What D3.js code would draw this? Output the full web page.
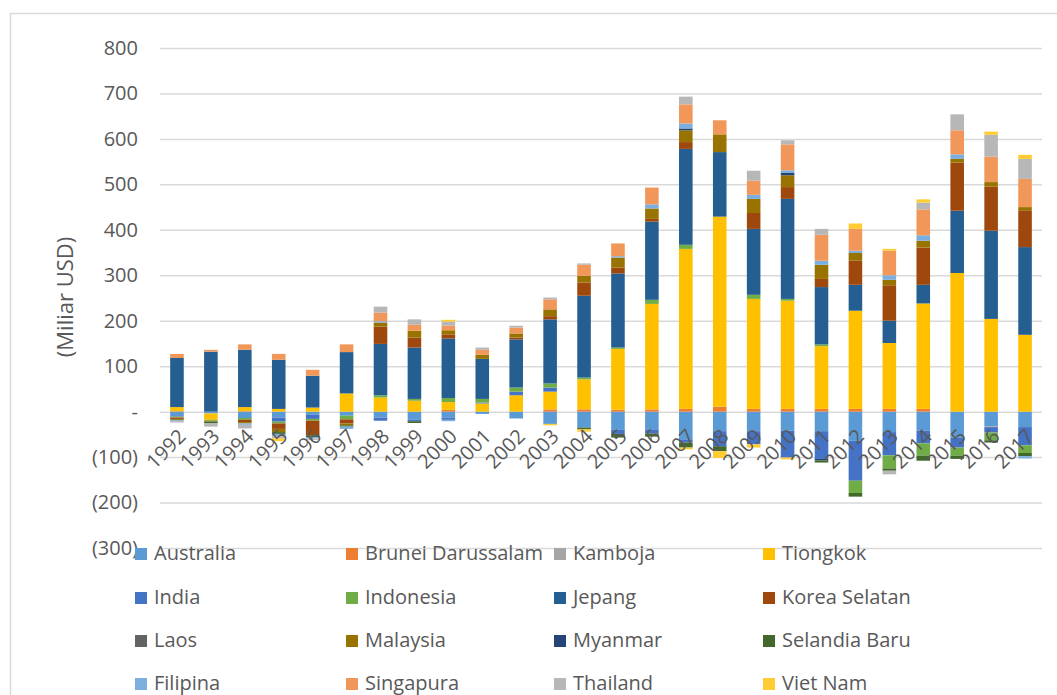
<!DOCTYPE html>
<html>
<head>
<meta charset="utf-8">
<script src="https://cdn.jsdelivr.net/npm/d3@7"></script>
<style>
  body { margin: 0; background: #fff; }
  text { font-family: "Open Sans", sans-serif; fill: #595959; }
</style>
</head>
<body>
<svg width="1057" height="695"></svg>
<script>
var years = ["1992","1993","1994","1995","1996","1997","1998","1999","2000","2001","2002","2003","2004",
	"2005","2006","2007","2008","2009","2010","2011","2012","2013","2014","2015","2016","2017"];

var names = ["Australia","Brunei Darussalam","Kamboja","Tiongkok","India","Indonesia","Jepang","Korea Selatan",
	"Laos","Malaysia","Myanmar","Selandia Baru","Filipina","Singapura","Thailand","Viet Nam"];

var palette = ["#5b9bd5","#ed7d31","#a5a5a5","#ffc000","#4472c4","#70ad47","#255e91","#9e480e",
	"#636363","#997300","#264478","#43682b","#7cafdd","#f1975a","#b7b7b7","#ffcd33"];

// values per partner, 1992..2017 (miliar USD)
var australia = [-8,-4,-14,-13,-7,-9,-13,-18,-13,-5,-15,-27,-35,-40,-39,-61,-43,-43,-42,-43,-64,-45,-42,-57,-32,-34];
var brunei    = [1,0,1,0,0,0,0,0,4,0,0,5,5,4,5,6,11,6,6,6,6,6,6,0,0,0];
var kamboja   = [0,0,0,0,0,0,0,0,0,0,0,0,0,0,0,0,0,0,0,0,0,0,0,0,-2,0];
var tiongkok  = [9,-14,9,6,9,40,31,24,17,18,36,39,66,134,232,352,418,242,238,138,216,145,232,305,204,169];
var india     = [-3,0,0,-9,-9,0,-7,-3,-5,2,8,9,0,-9,-9,-7,-33,-29,-59,-61,-88,-51,-28,-22,-12,-40];
var indonesia = [-2,-2,-4,-4,-4,-8,5,4,9,8,9,9,4,3,9,9,0,9,4,4,-27,-29,-27,-18,-17,-17];
var jepang    = [108,132,126,108,70,91,113,113,131,88,106,141,180,163,172,211,142,145,220,126,57,49,41,137,194,193];
var korea     = [-3,0,-5,-12,-32,-9,38,22,9,0,4,7,29,13,6,15,0,35,26,18,53,78,82,106,97,81];
var laos      = [0,0,0,0,0,0,0,0,0,0,0,0,0,0,0,0,0,0,0,0,0,0,0,0,0,0];
var malaysia  = [-2,-2,-3,-7,0,-4,9,15,9,9,9,15,15,22,23,26,39,31,26,31,17,12,15,8,10,7];
var myanmar   = [0,0,0,0,0,0,0,0,0,0,0,0,0,0,0,4,0,0,5,-3,0,0,0,0,0,0];
var selandia  = [-1,-3,0,-4,-4,-3,0,-4,0,0,0,0,-4,-8,-7,-11,-11,0,0,-5,-8,-5,-11,-7,-5,-7];
var filipina  = [-2,0,-3,-5,-3,-5,3,0,-3,0,0,0,0,3,9,11,0,9,6,9,5,10,12,10,0,-5];
var singapura = [9,4,12,13,13,17,19,13,10,11,13,22,24,28,37,42,31,31,57,57,48,54,57,53,56,62];
var thailand  = [-3,-8,-8,-5,-3,0,13,12,9,5,4,4,3,0,0,17,0,22,9,13,0,-8,15,35,48,44];
var vietnam   = [0,0,0,-6,0,0,0,0,4,0,0,-3,-5,0,0,-4,-15,-7,-4,0,12,4,7,0,7,9];

var yTicks = [-300,-200,-100,0,100,200,300,400,500,600,700,800];

var seriesValues = [australia,brunei,kamboja,tiongkok,india,indonesia,jepang,korea,
	laos,malaysia,myanmar,selandia,filipina,singapura,thailand,vietnam];

var rows = years.map(function(yr, i) {
	var r = {year: yr};
	names.forEach(function(n, j) { r[n] = seriesValues[j][i]; });
	return r;
});

var svg = d3.select("svg");
var color = d3.scaleOrdinal().domain(names).range(palette);

var plotLeft = 160, plotRight = 1042, plotTop = 48, plotBottom = 548;

var x = d3.scaleBand().domain(years).range([plotLeft, plotRight]).paddingInner(0.6).paddingOuter(0.3);
var y = d3.scaleLinear().domain([-300, 800]).range([plotBottom, plotTop]);

// outer frame
svg.append("rect")
	.attr("x", 10.5).attr("y", 13.5)
	.attr("width", 1100).attr("height", 800)
	.attr("fill", "none").attr("stroke", "#d9d9d9").attr("stroke-width", 1.5);

// y axis with gridlines
var fmt = function(v) {
	if (v === 0) return "-";
	if (v < 0) return "(" + Math.abs(v) + ")";
	return v;
};
var yAxis = svg.append("g")
	.attr("transform", "translate(" + plotLeft + ",0)")
	.call(d3.axisLeft(y).tickValues(yTicks).tickSize(-(plotRight - plotLeft)).tickPadding(22).tickFormat(fmt));
yAxis.select(".domain").remove();
yAxis.selectAll("line").attr("stroke", "#d9d9d9").attr("stroke-width", 1.5);
yAxis.selectAll("text").attr("font-size", 20).attr("fill", "#595959").style("font-family", "Open Sans");

// bars
var stack = d3.stack().keys(names).offset(d3.stackOffsetDiverging);
var layers = stack(rows);

svg.append("g").selectAll("g")
	.data(layers)
	.enter().append("g")
		.attr("fill", function(d) { return color(d.key); })
	.selectAll("rect")
	.data(function(d) { return d; })
	.enter().append("rect")
		.attr("x", function(d) { return x(d.data.year); })
		.attr("width", x.bandwidth())
		.attr("y", function(d) { return y(d[1]); })
		.attr("height", function(d) { return Math.abs(y(d[0]) - y(d[1])); });

// x axis labels at zero line
var xAxis = svg.append("g")
	.attr("transform", "translate(0," + (y(0) + 16) + ")")
	.call(d3.axisBottom(x).tickSize(0).tickPadding(0));
xAxis.select(".domain").remove();
xAxis.selectAll("text")
	.attr("font-size", 20)
	.style("font-family", "Open Sans")
	.attr("fill", "#595959")
	.attr("text-anchor", "end")
	.attr("y", 0).attr("dy", "0.71em")
	.attr("transform", "rotate(-45)");

// axis title
svg.append("text")
	.attr("transform", "translate(73,297) rotate(-90)")
	.attr("text-anchor", "middle")
	.attr("font-size", 22)
	.text("(Miliar USD)");

// legend, four columns
var colX = [135, 346, 554, 763];
var rowY = [553, 597, 640, 683];
var legend = svg.append("g").selectAll("g")
	.data(names)
	.enter().append("g")
		.attr("transform", function(d, i) { return "translate(" + colX[i % 4] + "," + rowY[Math.floor(i / 4)] + ")"; });

legend.append("rect")
	.attr("x", 0).attr("y", -5)
	.attr("width", 12).attr("height", 12)
	.attr("fill", function(d) { return color(d); });

legend.append("text")
	.attr("x", 19).attr("y", 0)
	.attr("dy", "0.35em")
	.attr("font-size", 20)
	.text(function(d) { return d; });
</script>
</body>
</html>
